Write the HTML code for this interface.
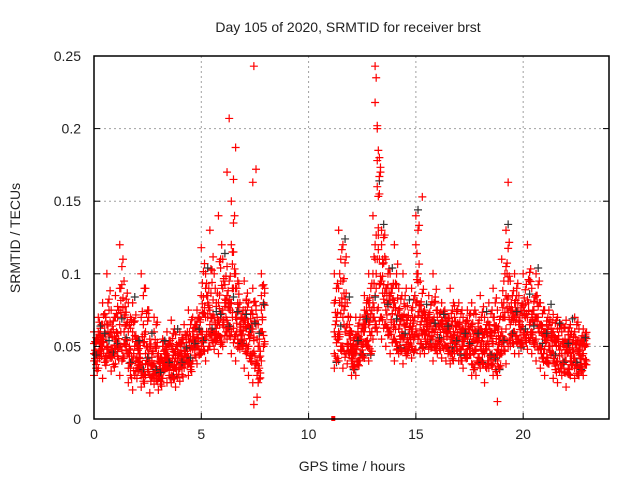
<!DOCTYPE html>
<html><head><meta charset="utf-8"><style>
body{margin:0;background:#fff;}
svg{display:block;font-family:"Liberation Sans",sans-serif;}
</style></head><body>
<svg id="chart" width="640" height="480" viewBox="0 0 640 480">
<rect width="640" height="480" fill="#fff"/>
<g id="grid"></g><g id="marks"></g><g id="axes"></g>
<text x="348" y="32" font-size="14" text-anchor="middle" fill="#222">Day 105 of 2020, SRMTID for receiver brst</text>
<text x="352" y="471" font-size="14" text-anchor="middle" fill="#222">GPS time / hours</text>
<text transform="translate(20,238) rotate(-90)" font-size="14" text-anchor="middle" fill="#222">SRMTID / TECUs</text>
</svg>
<script>
const xTicks=[0,5,10,15,20];
const yTicks=[0,0.05,0.1,0.15,0.2,0.25];
const yTickLabels=["0","0.05","0.1","0.15","0.2","0.25"];
const times1=[0.0,0.2,0.4,0.6,0.8,1.0,1.2,1.4,1.6,1.8,2.0,2.2,2.4,2.6,2.8,3.0,3.2,3.4,3.6,3.8,4.0,4.2,4.4,4.6,4.8,5.0,5.2,5.4,5.6,5.8,6.0,6.2,6.4,6.6,6.8,7.0,7.2,7.4,7.6,7.8];
const a1=[.030,.035,.028,.040,.033,.038,.030,.042,.025,.020,.028,.022,.030,.018,.024,.020,.028,.025,.030,.022,.026,.035,.030,.040,.038,.045,.040,.050,.048,.045,.050,.055,.045,.040,.052,.035,.030,.025,.015,.040];
const b1=[.045,.055,.050,.048,.060,.055,.050,.060,.045,.040,.042,.035,.045,.040,.038,.032,.040,.042,.038,.035,.045,.050,.042,.055,.050,.060,.055,.065,.060,.058,.065,.068,.060,.058,.065,.055,.050,.045,.040,.060];
const c1=[.060,.070,.080,.065,.075,.085,.090,.070,.080,.060,.055,.070,.090,.050,.060,.045,.055,.060,.050,.048,.060,.065,.055,.070,.075,.085,.090,.075,.100,.080,.090,.085,.120,.100,.080,.070,.065,.090,.070,.100];
const d1=[.052,.045,.065,.100,.048,.070,.120,.095,.060,.055,.035,.100,.060,.030,.070,.040,.035,.048,.068,.042,.052,.040,.075,.060,.065,.118,.070,.130,.055,.140,.075,.105,.150,.090,.060,.095,.080,.072,.030,.085];
const e1=[.040,.060,.055,.050,.042,.048,.065,.052,.035,.080,.050,.030,.038,.055,.030,.028,.050,.035,.025,.058,.035,.045,.038,.048,.058,.050,.100,.058,.070,.068,.110,.060,.080,.070,.048,.068,.058,.062,.055,.075];
const times2=[11.2,11.4,11.6,11.8,12.0,12.2,12.4,12.6,12.8,13.0,13.2,13.4,13.6,13.8,14.0,14.2,14.4,14.6,14.8,15.0,15.2,15.4,15.6,15.8,16.0,16.2,16.4,16.6,16.8,17.0,17.2,17.4,17.6,17.8,18.0,18.2,18.4,18.6,18.8,19.0,19.2,19.4,19.6,19.8,20.0,20.2,20.4,20.6,20.8,21.0,21.2,21.4,21.6,21.8,22.0,22.2,22.4,22.6,22.8];
const a2=[.045,.040,.035,.038,.040,.030,.045,.042,.050,.055,.060,.055,.050,.045,.040,.048,.038,.045,.050,.048,.052,.045,.050,.040,.045,.042,.040,.038,.045,.040,.035,.042,.038,.030,.040,.025,.035,.030,.040,.045,.038,.050,.045,.055,.050,.048,.045,.040,.035,.030,.038,.028,.025,.030,.022,.030,.028,.035,.030];
const b2=[.060,.055,.050,.052,.048,.045,.055,.060,.065,.070,.075,.070,.065,.060,.055,.062,.058,.055,.060,.062,.065,.058,.060,.055,.058,.055,.050,.052,.058,.055,.050,.055,.052,.048,.050,.045,.050,.052,.048,.060,.062,.065,.060,.068,.062,.060,.058,.055,.050,.048,.050,.045,.040,.045,.040,.045,.042,.048,.045];
const c2=[.080,.090,.070,.065,.060,.058,.070,.075,.080,.100,.110,.095,.090,.085,.080,.075,.070,.068,.075,.080,.078,.070,.072,.068,.070,.065,.068,.060,.070,.065,.062,.068,.065,.060,.062,.058,.065,.070,.062,.080,.085,.075,.080,.085,.078,.070,.072,.070,.065,.060,.065,.060,.055,.060,.052,.058,.060,.062,.055];
const d2=[.100,.130,.095,.050,.042,.070,.055,.085,.100,.140,.200,.120,.110,.080,.120,.090,.100,.048,.090,.120,.095,.060,.085,.100,.075,.080,.070,.090,.078,.080,.070,.075,.080,.072,.085,.060,.080,.090,.075,.110,.105,.095,.100,.065,.100,.120,.090,.085,.080,.075,.050,.072,.070,.065,.068,.040,.070,.045,.062];
const e2=[.035,.060,.120,.080,.030,.050,.040,.065,.040,.080,.160,.130,.075,.100,.065,.045,.055,.078,.042,.140,.045,.075,.048,.062,.052,.068,.060,.045,.050,.040,.055,.048,.030,.055,.035,.070,.040,.038,.030,.050,.130,.055,.070,.045,.058,.082,.060,.100,.048,.055,.075,.040,.062,.035,.048,.065,.035,.030,.052];
const outT=[6.3,6.6,6.5,6.2,7.45,7.55,7.4,13.1,13.15,13.1,13.2,13.25,13.3,13.2,15.3,19.3,7.45,18.8];
const outV=[.207,.187,.165,.17,.243,.172,.163,.243,.235,.218,.202,.185,.167,.178,.153,.163,.01,.012];
const zeroT=[11.15];
const zeroV=[0];

const L=94,R=609,T=56,B=419,XMAX=24,YMAX=0.25;
const xs=v=>L+(R-L)*v/XMAX, ys=v=>B-(B-T)*v/YMAX;
const NS="http://www.w3.org/2000/svg";
function mk(tag,attrs,parent){const e=document.createElementNS(NS,tag);for(const k in attrs)e.setAttribute(k,attrs[k]);parent.appendChild(e);return e;}
const grid=document.getElementById('grid'),axes=document.getElementById('axes'),marks=document.getElementById('marks');
xTicks.forEach(t=>{
  if(t>0){const g=mk('line',{x1:xs(t),x2:xs(t),y1:T,y2:B,stroke:'#a0a0a0','stroke-dasharray':'2,3'},grid);
  
  }
  const tk=mk('line',{x1:xs(t),x2:xs(t),y1:B,y2:B-6,stroke:'#000'},axes);
  
  
  const tx=mk('text',{x:xs(t),y:B+20,'font-size':14,'text-anchor':'middle',fill:'#222'},axes);tx.textContent=t;
  
  
});
yTicks.forEach((t,i)=>{
  if(t>0&&t<YMAX){const g=mk('line',{x1:L,x2:R,y1:ys(t),y2:ys(t),stroke:'#a0a0a0','stroke-dasharray':'2,3'},grid);
  
  }
  const tk=mk('line',{x1:L,x2:L+6,y1:ys(t),y2:ys(t),stroke:'#000'},axes);
  
  
  const tk2=mk('line',{x1:R,x2:R-6,y1:ys(t),y2:ys(t),stroke:'#000'},axes);
  
  
  const tx=mk('text',{x:L-13,y:ys(t)+5,'font-size':14,'text-anchor':'end',fill:'#222'},axes);tx.textContent=yTickLabels[i];
  
  
});
const fr=mk('rect',{x:L,y:T,width:R-L,height:B-T,fill:'none',stroke:'#000','stroke-width':1.5},axes);


function plus(t,v,col){
  const x=xs(t),y=ys(v);
  const p=mk('path',{d:`M${x-4},${y}H${x+4}M${x},${y-4}V${y+4}`,stroke:col,'stroke-width':1.2,fill:'none'},marks);
  
  
}
[[times1,[a1,b1,c1,d1,e1]],[times2,[a2,b2,c2,d2,e2]]].forEach(([ts,layers])=>{
  layers.forEach((arr,li)=>arr.forEach((v,i)=>{
    const nxt=layers[(li+1)%5][i], nxt2=layers[(li+2)%5][i];
    if(li===4) plus(ts[i]+0.1,v+0.004,'#333');
    plus(ts[i],v,'#ff0000');
    plus(ts[i]+0.1,(v+nxt)/2,'#ff0000');
    plus(ts[i]+0.05,(2*v+nxt2)/3,'#ff0000');
    plus(ts[i]+0.15,(v+2*nxt)/3,'#ff0000');
  }));
});
outT.forEach((t,i)=>plus(t,outV[i],'#ff0000'));
zeroT.forEach((t,i)=>{
  const r=mk('rect',{x:xs(t)-2,y:ys(zeroV[i])-3,width:4,height:5,fill:'#ff0000'},marks);
  
  
});
</script>
</body></html>
